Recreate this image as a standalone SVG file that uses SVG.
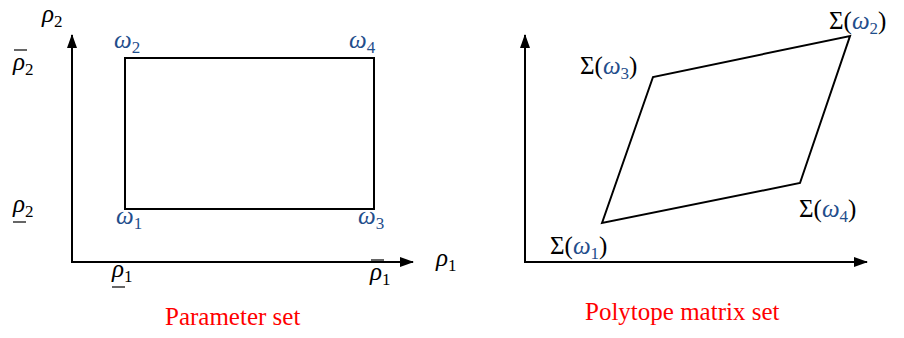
<svg xmlns="http://www.w3.org/2000/svg" width="904" height="338" viewBox="0 0 904 338">
<defs>
<marker id="arr" markerWidth="14" markerHeight="10" refX="13" refY="5" orient="auto" markerUnits="userSpaceOnUse">
<path d="M0,0 L14,5 L0,10 Z" fill="#000"/>
</marker>
</defs>
<g id="connectors" stroke="#000" stroke-width="2" fill="none">
<line x1="72" y1="263" x2="72" y2="35" marker-end="url(#arr)"/>
<line x1="71" y1="262" x2="413" y2="262" marker-end="url(#arr)"/>
<line x1="525" y1="263" x2="525" y2="35" marker-end="url(#arr)"/>
<line x1="524" y1="262" x2="867" y2="262" marker-end="url(#arr)"/>
</g>
<g id="param-rect"><rect x="125" y="58" width="249" height="151" stroke="#000" stroke-width="2" fill="none"/></g>
<g id="polytope"><polygon points="602,223 653,77 850,36 800,183" stroke="#000" stroke-width="2" fill="none"/></g>
<g id="axis-labels">
<text x="42" y="22" font-family="Liberation Serif, DejaVu Serif, serif" font-size="25"><tspan font-style="italic">ρ</tspan><tspan font-size="17" dy="5">2</tspan></text>
<text x="13" y="70" font-family="Liberation Serif, DejaVu Serif, serif" font-size="25"><tspan font-style="italic">ρ</tspan><tspan font-size="17" dy="5">2</tspan></text>
<line x1="14" y1="50" x2="27" y2="50" stroke="#000" stroke-width="1.2"/>
<text x="13" y="212" font-family="Liberation Serif, DejaVu Serif, serif" font-size="25"><tspan font-style="italic">ρ</tspan><tspan font-size="17" dy="5">2</tspan></text>
<line x1="13" y1="222" x2="26" y2="222" stroke="#000" stroke-width="1.2"/>
<text x="436" y="266" font-family="Liberation Serif, DejaVu Serif, serif" font-size="25"><tspan font-style="italic">ρ</tspan><tspan font-size="17" dy="5">1</tspan></text>
<text x="112" y="277" font-family="Liberation Serif, DejaVu Serif, serif" font-size="25"><tspan font-style="italic">ρ</tspan><tspan font-size="17" dy="5">1</tspan></text>
<line x1="112" y1="287" x2="125" y2="287" stroke="#000" stroke-width="1.2"/>
<text x="370" y="280" font-family="Liberation Serif, DejaVu Serif, serif" font-size="25"><tspan font-style="italic">ρ</tspan><tspan font-size="17" dy="5">1</tspan></text>
<line x1="371" y1="260" x2="384" y2="260" stroke="#000" stroke-width="1.2"/>
</g>
<g id="omega-labels">
<text x="114" y="48" font-family="Liberation Serif, DejaVu Serif, serif" font-size="25" fill="#1f4e8c"><tspan font-style="italic">ω</tspan><tspan font-size="17" dy="5">2</tspan></text>
<text x="349" y="48" font-family="Liberation Serif, DejaVu Serif, serif" font-size="25" fill="#1f4e8c"><tspan font-style="italic">ω</tspan><tspan font-size="17" dy="5">4</tspan></text>
<text x="116" y="224" font-family="Liberation Serif, DejaVu Serif, serif" font-size="25" fill="#1f4e8c"><tspan font-style="italic">ω</tspan><tspan font-size="17" dy="5">1</tspan></text>
<text x="358" y="224" font-family="Liberation Serif, DejaVu Serif, serif" font-size="25" fill="#1f4e8c"><tspan font-style="italic">ω</tspan><tspan font-size="17" dy="5">3</tspan></text>
</g>
<g id="sigma-labels">
<text x="580" y="74" font-family="Liberation Serif, DejaVu Serif, serif" font-size="25">Σ(<tspan font-style="italic" fill="#1f4e8c">ω</tspan><tspan font-size="17" fill="#1f4e8c" dy="5">3</tspan><tspan dy="-5">)</tspan></text>
<text x="829" y="29" font-family="Liberation Serif, DejaVu Serif, serif" font-size="25">Σ(<tspan font-style="italic" fill="#1f4e8c">ω</tspan><tspan font-size="17" fill="#1f4e8c" dy="5">2</tspan><tspan dy="-5">)</tspan></text>
<text x="550" y="254" font-family="Liberation Serif, DejaVu Serif, serif" font-size="25">Σ(<tspan font-style="italic" fill="#1f4e8c">ω</tspan><tspan font-size="17" fill="#1f4e8c" dy="5">1</tspan><tspan dy="-5">)</tspan></text>
<text x="799" y="217" font-family="Liberation Serif, DejaVu Serif, serif" font-size="25">Σ(<tspan font-style="italic" fill="#1f4e8c">ω</tspan><tspan font-size="17" fill="#1f4e8c" dy="5">4</tspan><tspan dy="-5">)</tspan></text>
</g>
<g id="captions">
<text x="165" y="325" font-family="Liberation Serif, DejaVu Serif, serif" font-size="25" fill="#ff0000">Parameter set</text>
<text x="585" y="320" font-family="Liberation Serif, DejaVu Serif, serif" font-size="25" fill="#ff0000">Polytope matrix set</text>
</g>
</svg>
